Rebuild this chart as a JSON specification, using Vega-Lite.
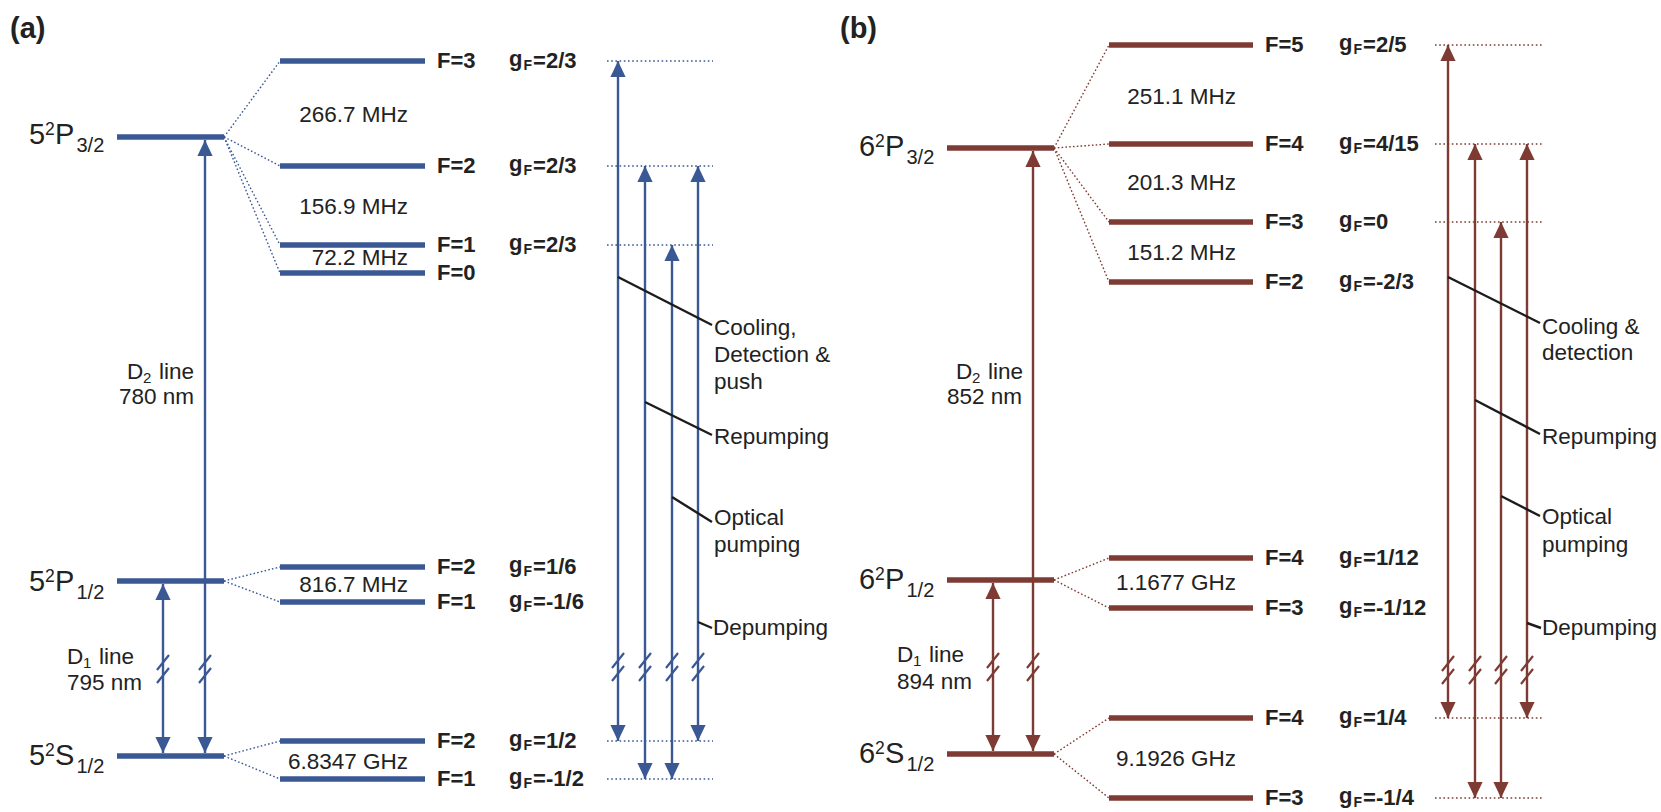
{
  "$schema": "https://vega.github.io/schema/vega-lite/v6.json",
  "autosize": {"type": "fit", "contains": "padding"},
  "width": 1661,
  "height": 812,
  "padding": 0,
  "background": "white",
  "config": {"view": {"stroke": null}},
  "datasets": {
    "levels": [
      {"panel": "a", "x": 117, "x2": 224, "y": 137},
      {"panel": "a", "x": 117, "x2": 224, "y": 581},
      {"panel": "a", "x": 117, "x2": 224, "y": 756},
      {"panel": "a", "x": 280, "x2": 425, "y": 61},
      {"panel": "a", "x": 280, "x2": 425, "y": 166},
      {"panel": "a", "x": 280, "x2": 425, "y": 245},
      {"panel": "a", "x": 280, "x2": 425, "y": 273},
      {"panel": "a", "x": 280, "x2": 425, "y": 567},
      {"panel": "a", "x": 280, "x2": 425, "y": 602},
      {"panel": "a", "x": 280, "x2": 425, "y": 741},
      {"panel": "a", "x": 280, "x2": 425, "y": 779},
      {"panel": "b", "x": 947, "x2": 1054, "y": 148},
      {"panel": "b", "x": 947, "x2": 1054, "y": 580},
      {"panel": "b", "x": 947, "x2": 1054, "y": 754},
      {"panel": "b", "x": 1109, "x2": 1253, "y": 45},
      {"panel": "b", "x": 1109, "x2": 1253, "y": 144},
      {"panel": "b", "x": 1109, "x2": 1253, "y": 222},
      {"panel": "b", "x": 1109, "x2": 1253, "y": 282},
      {"panel": "b", "x": 1109, "x2": 1253, "y": 558},
      {"panel": "b", "x": 1109, "x2": 1253, "y": 608},
      {"panel": "b", "x": 1109, "x2": 1253, "y": 718},
      {"panel": "b", "x": 1109, "x2": 1253, "y": 798}
    ],
    "connectors": [
      {"panel": "a", "x": 224, "y": 137, "x2": 280, "y2": 61},
      {"panel": "a", "x": 224, "y": 137, "x2": 280, "y2": 166},
      {"panel": "a", "x": 224, "y": 137, "x2": 280, "y2": 245},
      {"panel": "a", "x": 224, "y": 137, "x2": 280, "y2": 273},
      {"panel": "a", "x": 224, "y": 581, "x2": 280, "y2": 567},
      {"panel": "a", "x": 224, "y": 581, "x2": 280, "y2": 602},
      {"panel": "a", "x": 224, "y": 756, "x2": 280, "y2": 741},
      {"panel": "a", "x": 224, "y": 756, "x2": 280, "y2": 779},
      {"panel": "b", "x": 1054, "y": 148, "x2": 1109, "y2": 45},
      {"panel": "b", "x": 1054, "y": 148, "x2": 1109, "y2": 144},
      {"panel": "b", "x": 1054, "y": 148, "x2": 1109, "y2": 222},
      {"panel": "b", "x": 1054, "y": 148, "x2": 1109, "y2": 282},
      {"panel": "b", "x": 1054, "y": 580, "x2": 1109, "y2": 558},
      {"panel": "b", "x": 1054, "y": 580, "x2": 1109, "y2": 608},
      {"panel": "b", "x": 1054, "y": 754, "x2": 1109, "y2": 718},
      {"panel": "b", "x": 1054, "y": 754, "x2": 1109, "y2": 798}
    ],
    "refs": [
      {"panel": "a", "x": 607, "x2": 713, "y": 61},
      {"panel": "a", "x": 607, "x2": 713, "y": 166},
      {"panel": "a", "x": 607, "x2": 713, "y": 245},
      {"panel": "a", "x": 607, "x2": 713, "y": 741},
      {"panel": "a", "x": 607, "x2": 713, "y": 779},
      {"panel": "b", "x": 1435, "x2": 1544, "y": 45},
      {"panel": "b", "x": 1435, "x2": 1544, "y": 144},
      {"panel": "b", "x": 1435, "x2": 1544, "y": 222},
      {"panel": "b", "x": 1435, "x2": 1544, "y": 718},
      {"panel": "b", "x": 1435, "x2": 1544, "y": 798}
    ],
    "arrows": [
      {"panel": "a", "x": 205, "top": 140, "bottom": 753},
      {"panel": "a", "x": 163, "top": 584, "bottom": 753},
      {"panel": "a", "x": 618, "top": 61, "bottom": 741},
      {"panel": "a", "x": 645, "top": 166, "bottom": 779},
      {"panel": "a", "x": 672, "top": 245, "bottom": 779},
      {"panel": "a", "x": 698, "top": 166, "bottom": 741},
      {"panel": "b", "x": 1033, "top": 151, "bottom": 751},
      {"panel": "b", "x": 993, "top": 583, "bottom": 751},
      {"panel": "b", "x": 1448, "top": 45, "bottom": 718},
      {"panel": "b", "x": 1475, "top": 144, "bottom": 798},
      {"panel": "b", "x": 1501, "top": 222, "bottom": 798},
      {"panel": "b", "x": 1527, "top": 144, "bottom": 718}
    ],
    "breaks": [
      {"panel": "a", "x": 163, "y": 669},
      {"panel": "a", "x": 205, "y": 669},
      {"panel": "a", "x": 618, "y": 667},
      {"panel": "a", "x": 645, "y": 667},
      {"panel": "a", "x": 672, "y": 667},
      {"panel": "a", "x": 698, "y": 667},
      {"panel": "b", "x": 993, "y": 667},
      {"panel": "b", "x": 1033, "y": 667},
      {"panel": "b", "x": 1448, "y": 670},
      {"panel": "b", "x": 1475, "y": 670},
      {"panel": "b", "x": 1501, "y": 670},
      {"panel": "b", "x": 1527, "y": 670}
    ],
    "callouts": [
      {"x": 618, "y": 277, "x2": 712, "y2": 325},
      {"x": 645, "y": 402, "x2": 712, "y2": 435},
      {"x": 672, "y": 497, "x2": 712, "y2": 522},
      {"x": 698, "y": 622, "x2": 712, "y2": 628},
      {"x": 1448, "y": 277, "x2": 1540, "y2": 323},
      {"x": 1475, "y": 400, "x2": 1540, "y2": 434},
      {"x": 1501, "y": 496, "x2": 1540, "y2": 516},
      {"x": 1527, "y": 623, "x2": 1541, "y2": 628}
    ],
    "plainText": [
      {"x": 119, "y": 397, "text": "780 nm"},
      {"x": 67, "y": 683, "text": "795 nm"},
      {"x": 714, "y": 328, "text": "Cooling,"},
      {"x": 714, "y": 355, "text": "Detection &"},
      {"x": 714, "y": 382, "text": "push"},
      {"x": 714, "y": 437, "text": "Repumping"},
      {"x": 714, "y": 518, "text": "Optical"},
      {"x": 714, "y": 545, "text": "pumping"},
      {"x": 713, "y": 628, "text": "Depumping"},
      {"x": 947, "y": 397, "text": "852 nm"},
      {"x": 897, "y": 682, "text": "894 nm"},
      {"x": 1542, "y": 327, "text": "Cooling &"},
      {"x": 1542, "y": 353, "text": "detection"},
      {"x": 1542, "y": 437, "text": "Repumping"},
      {"x": 1542, "y": 517, "text": "Optical"},
      {"x": 1542, "y": 545, "text": "pumping"},
      {"x": 1542, "y": 628, "text": "Depumping"}
    ],
    "freqText": [
      {"x": 408, "y": 115, "text": "266.7 MHz"},
      {"x": 408, "y": 207, "text": "156.9 MHz"},
      {"x": 408, "y": 258, "text": "72.2 MHz"},
      {"x": 408, "y": 585, "text": "816.7 MHz"},
      {"x": 408, "y": 762, "text": "6.8347 GHz"},
      {"x": 1236, "y": 97, "text": "251.1 MHz"},
      {"x": 1236, "y": 183, "text": "201.3 MHz"},
      {"x": 1236, "y": 253, "text": "151.2 MHz"},
      {"x": 1236, "y": 583, "text": "1.1677 GHz"},
      {"x": 1236, "y": 759, "text": "9.1926 GHz"}
    ],
    "fLabels": [
      {"x": 437, "y": 61, "text": "F=3"},
      {"x": 437, "y": 166, "text": "F=2"},
      {"x": 437, "y": 245, "text": "F=1"},
      {"x": 437, "y": 273, "text": "F=0"},
      {"x": 437, "y": 567, "text": "F=2"},
      {"x": 437, "y": 602, "text": "F=1"},
      {"x": 437, "y": 741, "text": "F=2"},
      {"x": 437, "y": 779, "text": "F=1"},
      {"x": 1265, "y": 45, "text": "F=5"},
      {"x": 1265, "y": 144, "text": "F=4"},
      {"x": 1265, "y": 222, "text": "F=3"},
      {"x": 1265, "y": 282, "text": "F=2"},
      {"x": 1265, "y": 558, "text": "F=4"},
      {"x": 1265, "y": 608, "text": "F=3"},
      {"x": 1265, "y": 718, "text": "F=4"},
      {"x": 1265, "y": 798, "text": "F=3"}
    ],
    "gLabels": [
      {"x": 509, "y": 61, "g": "2/3"},
      {"x": 509, "y": 166, "g": "2/3"},
      {"x": 509, "y": 245, "g": "2/3"},
      {"x": 509, "y": 567, "g": "1/6"},
      {"x": 509, "y": 602, "g": "-1/6"},
      {"x": 509, "y": 741, "g": "1/2"},
      {"x": 509, "y": 779, "g": "-1/2"},
      {"x": 1339, "y": 45, "g": "2/5"},
      {"x": 1339, "y": 144, "g": "4/15"},
      {"x": 1339, "y": 222, "g": "0"},
      {"x": 1339, "y": 282, "g": "-2/3"},
      {"x": 1339, "y": 558, "g": "1/12"},
      {"x": 1339, "y": 608, "g": "-1/12"},
      {"x": 1339, "y": 718, "g": "1/4"},
      {"x": 1339, "y": 798, "g": "-1/4"}
    ],
    "terms": [
      {"x": 29, "y": 135, "n": "5", "term": "P", "j": "3/2"},
      {"x": 29, "y": 582, "n": "5", "term": "P", "j": "1/2"},
      {"x": 29, "y": 756, "n": "5", "term": "S", "j": "1/2"},
      {"x": 859, "y": 147, "n": "6", "term": "P", "j": "3/2"},
      {"x": 859, "y": 580, "n": "6", "term": "P", "j": "1/2"},
      {"x": 859, "y": 754, "n": "6", "term": "S", "j": "1/2"}
    ],
    "dLines": [
      {"x": 127, "y": 372, "n": "2"},
      {"x": 67, "y": 657, "n": "1"},
      {"x": 956, "y": 372, "n": "2"},
      {"x": 897, "y": 655, "n": "1"}
    ],
    "tags": [
      {"x": 10, "y": 29, "text": "(a)"},
      {"x": 840, "y": 29, "text": "(b)"}
    ]
  },
  "layer": [
    {
      "data": {"name": "connectors"},
      "mark": {"type": "rule", "strokeWidth": 1.4, "strokeDash": [1.6, 2.2]},
      "encoding": {
        "x": {"field": "x", "type": "quantitative", "scale": {"domain": [0, 1661], "nice": false, "zero": false}, "axis": null},
        "y": {"field": "y", "type": "quantitative", "scale": {"domain": [0, 812], "nice": false, "zero": false, "reverse": true}, "axis": null},
        "x2": {"field": "x2"},
        "y2": {"field": "y2"},
        "color": {"field": "panel", "type": "nominal", "scale": {"domain": ["a", "b"], "range": ["#3a5894", "#7d3b33"]}, "legend": null}
      }
    },
    {
      "data": {"name": "refs"},
      "mark": {"type": "rule", "strokeWidth": 1.5, "strokeDash": [1.6, 2.6]},
      "encoding": {
        "x": {"field": "x", "type": "quantitative", "axis": null},
        "x2": {"field": "x2"},
        "y": {"field": "y", "type": "quantitative", "axis": null},
        "color": {"field": "panel", "type": "nominal", "legend": null}
      }
    },
    {
      "data": {"name": "levels"},
      "mark": {"type": "rule", "strokeWidth": 5.5, "strokeCap": "butt"},
      "encoding": {
        "x": {"field": "x", "type": "quantitative", "axis": null},
        "x2": {"field": "x2"},
        "y": {"field": "y", "type": "quantitative", "axis": null},
        "color": {"field": "panel", "type": "nominal", "legend": null}
      }
    },
    {
      "data": {"name": "arrows"},
      "mark": {"type": "rule", "strokeWidth": 2.4, "strokeCap": "butt"},
      "encoding": {
        "x": {"field": "x", "type": "quantitative", "axis": null},
        "y": {"field": "top", "type": "quantitative", "axis": null},
        "y2": {"field": "bottom"},
        "color": {"field": "panel", "type": "nominal", "legend": null}
      }
    },
    {
      "data": {"name": "arrows"},
      "mark": {"type": "point", "shape": "M0,0L0.95,2L-0.95,2Z", "size": 256, "filled": true, "opacity": 1, "strokeWidth": 0},
      "encoding": {
        "x": {"field": "x", "type": "quantitative", "axis": null},
        "y": {"field": "top", "type": "quantitative", "axis": null},
        "color": {"field": "panel", "type": "nominal", "legend": null}
      }
    },
    {
      "data": {"name": "arrows"},
      "mark": {"type": "point", "shape": "M0,0L0.95,-2L-0.95,-2Z", "size": 256, "filled": true, "opacity": 1, "strokeWidth": 0},
      "encoding": {
        "x": {"field": "x", "type": "quantitative", "axis": null},
        "y": {"field": "bottom", "type": "quantitative", "axis": null},
        "color": {"field": "panel", "type": "nominal", "legend": null}
      }
    },
    {
      "data": {"name": "breaks"},
      "mark": {"type": "point", "shape": "M-6,1L6,-14M-6,14L6,-1", "size": 4, "filled": false, "opacity": 1, "strokeWidth": 2.2},
      "encoding": {
        "x": {"field": "x", "type": "quantitative", "axis": null},
        "y": {"field": "y", "type": "quantitative", "axis": null},
        "color": {"field": "panel", "type": "nominal", "legend": null}
      }
    },
    {
      "data": {"name": "callouts"},
      "mark": {"type": "rule", "strokeWidth": 2.4, "color": "#1c1c1c"},
      "encoding": {
        "x": {"field": "x", "type": "quantitative", "axis": null},
        "y": {"field": "y", "type": "quantitative", "axis": null},
        "x2": {"field": "x2"},
        "y2": {"field": "y2"}
      }
    },
    {
      "data": {"name": "plainText"},
      "mark": {"type": "text", "align": "left", "baseline": "middle", "font": "Liberation Sans", "fontSize": 22.5, "color": "#222222"},
      "encoding": {
        "x": {"field": "x", "type": "quantitative", "axis": null},
        "y": {"field": "y", "type": "quantitative", "axis": null},
        "text": {"field": "text"}
      }
    },
    {
      "data": {"name": "freqText"},
      "mark": {"type": "text", "align": "right", "baseline": "middle", "font": "Liberation Sans", "fontSize": 22.5, "color": "#222222"},
      "encoding": {
        "x": {"field": "x", "type": "quantitative", "axis": null},
        "y": {"field": "y", "type": "quantitative", "axis": null},
        "text": {"field": "text"}
      }
    },
    {
      "data": {"name": "fLabels"},
      "mark": {"type": "text", "align": "left", "baseline": "middle", "font": "Liberation Sans", "fontWeight": "bold", "fontSize": 22, "color": "#222222"},
      "encoding": {
        "x": {"field": "x", "type": "quantitative", "axis": null},
        "y": {"field": "y", "type": "quantitative", "axis": null},
        "text": {"field": "text"}
      }
    },
    {
      "data": {"name": "gLabels"},
      "mark": {"type": "text", "align": "left", "baseline": "middle", "font": "Liberation Sans", "fontWeight": "bold", "fontSize": 22, "color": "#222222", "text": "g", "dy": -2},
      "encoding": {
        "x": {"field": "x", "type": "quantitative", "axis": null},
        "y": {"field": "y", "type": "quantitative", "axis": null}
      }
    },
    {
      "data": {"name": "gLabels"},
      "mark": {"type": "text", "align": "left", "baseline": "middle", "font": "Liberation Sans", "fontWeight": "bold", "fontSize": 14, "color": "#222222", "text": "F", "dx": 14.5, "dy": 5},
      "encoding": {
        "x": {"field": "x", "type": "quantitative", "axis": null},
        "y": {"field": "y", "type": "quantitative", "axis": null}
      }
    },
    {
      "data": {"name": "gLabels"},
      "mark": {"type": "text", "align": "left", "baseline": "middle", "font": "Liberation Sans", "fontWeight": "bold", "fontSize": 22, "color": "#222222", "text": "=", "dx": 24},
      "encoding": {
        "x": {"field": "x", "type": "quantitative", "axis": null},
        "y": {"field": "y", "type": "quantitative", "axis": null}
      }
    },
    {
      "data": {"name": "gLabels"},
      "mark": {"type": "text", "align": "left", "baseline": "middle", "font": "Liberation Sans", "fontWeight": "bold", "fontSize": 22, "color": "#222222", "dx": 37},
      "encoding": {
        "x": {"field": "x", "type": "quantitative", "axis": null},
        "y": {"field": "y", "type": "quantitative", "axis": null},
        "text": {"field": "g"}
      }
    },
    {
      "data": {"name": "terms"},
      "mark": {"type": "text", "align": "left", "baseline": "middle", "font": "Liberation Sans", "fontSize": 29, "color": "#222222"},
      "encoding": {
        "x": {"field": "x", "type": "quantitative", "axis": null},
        "y": {"field": "y", "type": "quantitative", "axis": null},
        "text": {"field": "n"}
      }
    },
    {
      "data": {"name": "terms"},
      "mark": {"type": "text", "align": "left", "baseline": "middle", "font": "Liberation Sans", "fontSize": 17.5, "color": "#222222", "text": "2", "dx": 16, "dy": -5},
      "encoding": {
        "x": {"field": "x", "type": "quantitative", "axis": null},
        "y": {"field": "y", "type": "quantitative", "axis": null}
      }
    },
    {
      "data": {"name": "terms"},
      "mark": {"type": "text", "align": "left", "baseline": "middle", "font": "Liberation Sans", "fontSize": 29, "color": "#222222", "dx": 26},
      "encoding": {
        "x": {"field": "x", "type": "quantitative", "axis": null},
        "y": {"field": "y", "type": "quantitative", "axis": null},
        "text": {"field": "term"}
      }
    },
    {
      "data": {"name": "terms"},
      "mark": {"type": "text", "align": "left", "baseline": "middle", "font": "Liberation Sans", "fontSize": 20, "color": "#222222", "dx": 47.5, "dy": 11},
      "encoding": {
        "x": {"field": "x", "type": "quantitative", "axis": null},
        "y": {"field": "y", "type": "quantitative", "axis": null},
        "text": {"field": "j"}
      }
    },
    {
      "data": {"name": "dLines"},
      "mark": {"type": "text", "align": "left", "baseline": "middle", "font": "Liberation Sans", "fontSize": 22.5, "color": "#222222", "text": "D"},
      "encoding": {
        "x": {"field": "x", "type": "quantitative", "axis": null},
        "y": {"field": "y", "type": "quantitative", "axis": null}
      }
    },
    {
      "data": {"name": "dLines"},
      "mark": {"type": "text", "align": "left", "baseline": "middle", "font": "Liberation Sans", "fontSize": 15, "color": "#222222", "dx": 16, "dy": 6},
      "encoding": {
        "x": {"field": "x", "type": "quantitative", "axis": null},
        "y": {"field": "y", "type": "quantitative", "axis": null},
        "text": {"field": "n"}
      }
    },
    {
      "data": {"name": "dLines"},
      "mark": {"type": "text", "align": "left", "baseline": "middle", "font": "Liberation Sans", "fontSize": 22.5, "color": "#222222", "text": "line", "dx": 32},
      "encoding": {
        "x": {"field": "x", "type": "quantitative", "axis": null},
        "y": {"field": "y", "type": "quantitative", "axis": null}
      }
    },
    {
      "data": {"name": "tags"},
      "mark": {"type": "text", "align": "left", "baseline": "middle", "font": "Liberation Sans", "fontWeight": "bold", "fontSize": 29, "color": "#222222"},
      "encoding": {
        "x": {"field": "x", "type": "quantitative", "axis": null},
        "y": {"field": "y", "type": "quantitative", "axis": null},
        "text": {"field": "text"}
      }
    }
  ]
}
